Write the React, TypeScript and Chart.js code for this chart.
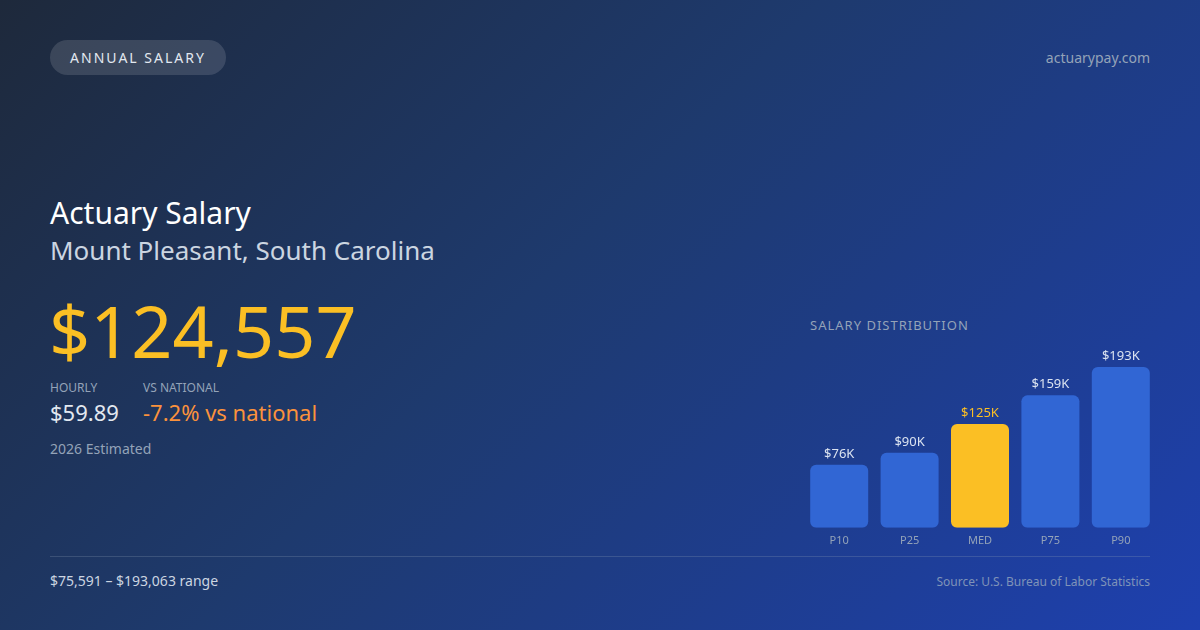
import { useEffect, useRef } from 'react'
import { Chart, registerables } from 'chart.js'

Chart.register(...registerables)

const percentiles = ['P10', 'P25', 'MED', 'P75', 'P90']
const salaries = [75591, 90000, 124557, 159000, 193063]
const medianIndex = 2

const BLUE = '#3166d4'
const GOLD = '#fbbf24'
const FONT = '"Noto Sans", "Open Sans", sans-serif'

const fmtK = (v: number) => '$' + Math.round(v / 1000) + 'K'

const valueLabels = {
  id: 'valueLabels',
  afterDatasetsDraw(chart: Chart) {
    const { ctx } = chart
    const meta = chart.getDatasetMeta(0)
    ctx.save()
    ctx.font = `13px ${FONT}`
    ctx.textAlign = 'center'
    ctx.textBaseline = 'middle'
    meta.data.forEach((bar, i) => {
      ctx.fillStyle = i === medianIndex ? GOLD : '#dbe3f0'
      ctx.fillText(fmtK(salaries[i]), bar.x, bar.y - 11)
    })
    ctx.restore()
  },
}

function DistributionChart() {
  const chartRef = useRef<HTMLCanvasElement | null>(null)

  useEffect(() => {
    if (!chartRef.current) return
    const chart = new Chart(chartRef.current, {
      type: 'bar',
      data: {
        labels: percentiles,
        datasets: [{
          data: salaries,
          backgroundColor: salaries.map((_, i) => i === medianIndex ? GOLD : BLUE),
          borderRadius: 6,
          borderSkipped: false,
          barPercentage: 0.824,
          categoryPercentage: 1,
        }],
      },
      options: {
        responsive: false,
        animation: false,
        maintainAspectRatio: false,
        layout: { padding: { top: 27, bottom: 0, left: 0, right: 0 } },
        plugins: { legend: { display: false }, tooltip: { enabled: false } },
        scales: {
          x: {
            grid: { display: false, drawTicks: false },
            border: { display: false },
            ticks: { color: '#94a3b8', font: { size: 11, family: FONT }, padding: 6 },
          },
          y: {
            display: false,
            min: 0,
            max: Math.max(...salaries),
          },
        },
      },
      plugins: [valueLabels],
    })
    return () => chart.destroy()
  }, [])

  return <canvas ref={chartRef} width={352} height={213} style={{ width: 352, height: 213 }} />
}

export default function App() {
  return (
    <div style={{
      position: 'absolute', left: 0, top: 0, width: 1200, height: 630, overflow: 'hidden',
      background: 'linear-gradient(135deg, #1e293b 0%, #1e3a6e 45%, #1e40af 100%)',
      fontFamily: FONT, color: '#fff',
    }}>
      <div style={{
        position: 'absolute', left: 50, top: 40, height: 35, width: 176, borderRadius: 18,
        background: 'rgba(255,255,255,0.13)', color: '#e2e8f0', fontSize: 14, letterSpacing: 2,
        display: 'flex', alignItems: 'center', justifyContent: 'center',
      }}>ANNUAL SALARY</div>
      <div style={{ position: 'absolute', right: 50, top: 48, fontSize: 14, color: '#94a3b8' }}>actuarypay.com</div>

      <div style={{ position: 'absolute', left: 50, top: 193, fontSize: 30, lineHeight: '40px', color: '#ffffff' }}>Actuary Salary</div>
      <div style={{ position: 'absolute', left: 50, top: 232, fontSize: 26, lineHeight: '36px', color: '#cbd5e1' }}>Mount Pleasant, South Carolina</div>
      <div style={{ position: 'absolute', left: 49, top: 282, fontSize: 72, lineHeight: '96px', color: GOLD }}>$124,557</div>

      <div style={{ position: 'absolute', left: 50, top: 379, fontSize: 12, color: '#94a3b8' }}>HOURLY</div>
      <div style={{ position: 'absolute', left: 50, top: 397, fontSize: 22, lineHeight: '30px', color: '#e2e8f0' }}>$59.89</div>
      <div style={{ position: 'absolute', left: 143, top: 379, fontSize: 12, color: '#94a3b8' }}>VS NATIONAL</div>
      <div style={{ position: 'absolute', left: 143, top: 397, fontSize: 22, lineHeight: '30px', color: '#fb923c' }}>-7.2% vs national</div>
      <div style={{ position: 'absolute', left: 50, top: 439, fontSize: 14, color: '#94a3b8' }}>2026 Estimated</div>

      <div style={{ position: 'absolute', left: 810, top: 316, fontSize: 13, letterSpacing: 1, color: '#94a3b8' }}>SALARY DISTRIBUTION</div>
      <div style={{ position: 'absolute', left: 804, top: 340 }}>
        <DistributionChart />
      </div>

      <div style={{ position: 'absolute', left: 50, top: 556, width: 1100, height: 1, background: 'rgba(148,163,184,0.25)' }} />
      <div style={{ position: 'absolute', left: 50, top: 571, fontSize: 14, color: '#cbd5e1' }}>$75,591 – $193,063 range</div>
      <div style={{ position: 'absolute', right: 50, top: 573, fontSize: 12, color: '#7f93b8' }}>Source: U.S. Bureau of Labor Statistics</div>
    </div>
  )
}
